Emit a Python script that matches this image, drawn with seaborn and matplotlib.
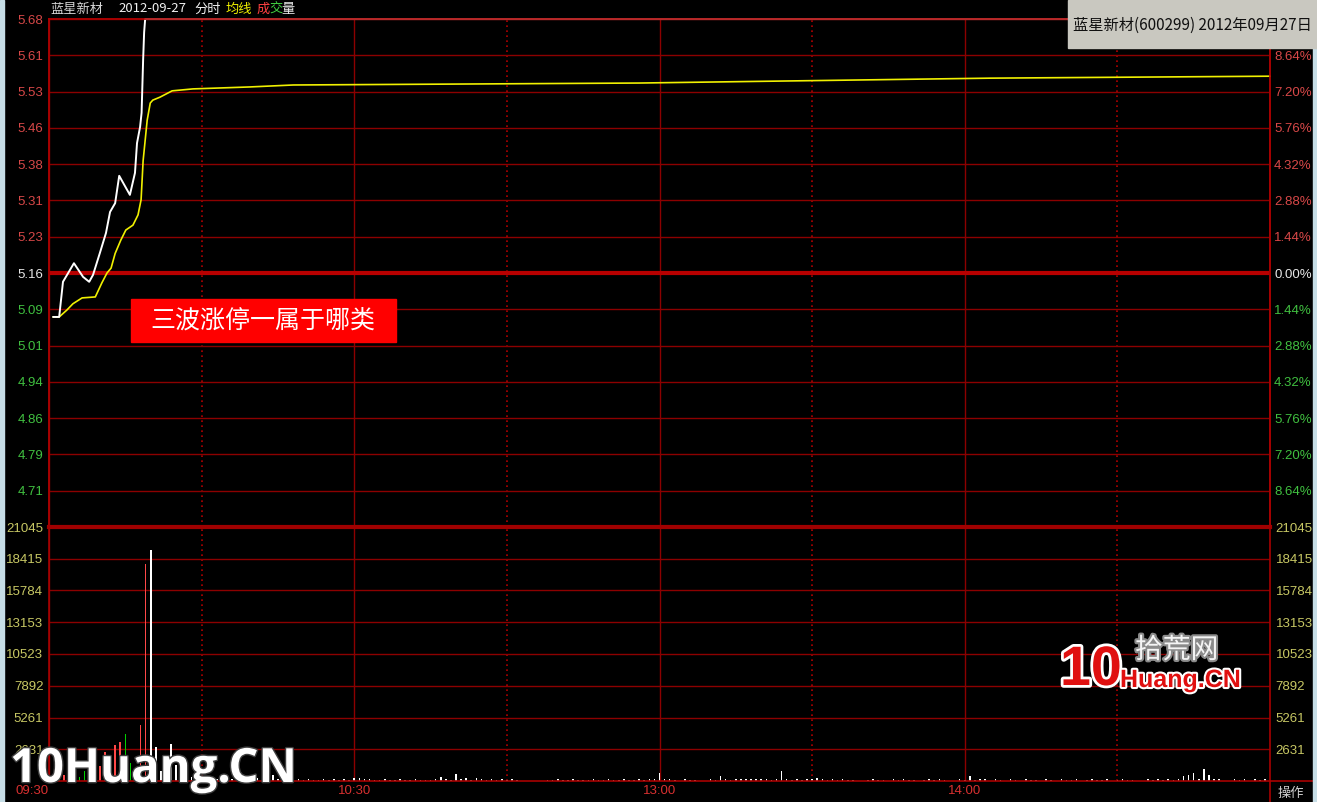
import pandas as pd
import seaborn as sns
import matplotlib.pyplot as plt
import matplotlib.patheffects as pe
from matplotlib.patches import Rectangle
from matplotlib.lines import Line2D

# x values are trading minutes after 09:30 (lunch break removed, 240 = 15:00)
price_t = [0.8, 2.0, 2.75, 4.9, 6.7, 7.9, 8.65, 10.0, 11.2, 12.0, 13.0, 13.8,
           15.9, 16.9, 17.3, 17.9, 18.2, 18.5, 18.7, 18.9, 240]
price_v = [5.07, 5.07, 5.142, 5.18, 5.152, 5.142, 5.156, 5.201, 5.242, 5.285,
           5.303, 5.359, 5.320, 5.365, 5.426, 5.459, 5.488, 5.596, 5.653, 5.68, 5.68]

avg_t = [0.8, 2.0, 3.5, 4.7, 6.5, 9.1, 10.4, 11.4, 12.2, 13.0, 14.1, 15.1, 16.5,
         17.5, 18.1, 18.5, 19.3, 19.9, 20.4, 21.8, 24.2, 28.3, 39.5, 48, 116, 185, 240]
avg_v = [5.07, 5.07, 5.084, 5.097, 5.109, 5.111, 5.14, 5.16, 5.17, 5.20, 5.227,
         5.248, 5.258, 5.279, 5.31, 5.39, 5.473, 5.508, 5.514, 5.52, 5.533, 5.537,
         5.541, 5.545, 5.549, 5.559, 5.563]

# volume per minute, minutes 1..239
volume = [
    600, 300, 500, 350, 200, 300, 860, 400, 700, 1270, 2440, 1200, 2990, 3190, 3900,
    1500, 900, 4600, 18000, 19170, 2850, 800, 1200, 3070, 1330, 800, 600, 350, 500, 360,
    150, 120, 200, 150, 100, 180, 120, 150, 100, 200, 220, 150, 120, 500, 150,
    100, 180, 120, 150, 100, 150, 120, 100, 150, 120, 150, 120, 150, 120, 280,
    250, 150, 150, 120, 100, 150, 120, 100, 150, 100, 120, 150, 100, 120, 100,
    150, 330, 160, 120, 600, 150, 250, 120, 280, 150, 120, 150, 100, 150, 120,
    150, 100, 0, 0, 0, 0, 0, 120, 100, 150, 100, 120, 150, 100, 120,
    100, 150, 120, 100, 150, 120, 100, 150, 100, 120, 150, 100, 200, 150, 700,
    200, 150, 120, 0, 150, 100, 120, 0, 0, 150, 120, 390, 150, 120, 150,
    200, 150, 200, 150, 200, 150, 120, 150, 830, 150, 120, 150, 100, 150, 150,
    250, 150, 120, 150, 100, 150, 120, 100, 0, 0, 120, 150, 100, 120, 0,
    150, 100, 150, 120, 100, 0, 120, 150, 100, 150, 100, 0, 0, 150, 120,
    390, 120, 200, 150, 0, 150, 120, 0, 150, 100, 0, 150, 120, 100, 0,
    150, 120, 0, 150, 100, 120, 150, 0, 100, 150, 120, 100, 150, 0, 120,
    150, 120, 100, 0, 0, 150, 120, 150, 100, 150, 120, 150, 390, 460, 690,
    200, 1000, 500, 200, 200, 0, 0, 150, 120, 150, 0, 150, 120, 150,
]
# u = up (red), d = down (green); every later minute is flat at limit-up (white)
vol_side_open = "uduudddduuuuuuddduuf"

prev_close = 5.16
price_labels = ["4.71", "4.79", "4.86", "4.94", "5.01", "5.09", "5.16",
                "5.23", "5.31", "5.38", "5.46", "5.53", "5.61", "5.68"]
# the top percent label sits under the title box in the reference
pct_labels = ["8.64%", "7.20%", "5.76%", "4.32%", "2.88%", "1.44%", "0.00%",
              "1.44%", "2.88%", "4.32%", "5.76%", "7.20%", "8.64%", ""]
vol_ticks = [2631, 5261, 7892, 10523, 13153, 15784, 18415, 21045]
time_ticks = [0, 60, 120, 180]
time_labels = ["09:30", "10:30", "13:00", "14:00"]

sns.set_theme(style="dark")
plt.rcParams["font.family"] = ["Liberation Sans", "Noto Sans CJK SC"]

W, H = 1317, 802
fig = plt.figure(figsize=(W / 100, H / 100), dpi=100, facecolor="black")


def fx(x):
    return x / W


def fy(y):
    return 1 - y / H


GRID = "#8c0000"
AXIS = "#a80000"
RED_T = "#d84848"
GREEN_T = "#40c040"
WHITE_T = "#e8e8e8"
YEL_T = "#c8c864"

axp = fig.add_axes([fx(49), fy(527), fx(1221), 508 / H])
axv = fig.add_axes([fx(49), fy(781), fx(1221), 254 / H], sharex=axp)

# price panel
step = prev_close * 0.0144
pticks = [prev_close + step * k for k in range(-6, 8)]
sns.lineplot(x=avg_t, y=avg_v, ax=axp, color="#f0f000", lw=1.2, estimator=None, sort=False)
sns.lineplot(x=price_t, y=price_v, ax=axp, color="white", lw=1.4, estimator=None, sort=False)
for ln in axp.lines:
    ln.set_clip_on(False)
    ln.set_zorder(5)
axp.axhline(prev_close, color="#b80000", lw=3, zorder=3)
axp.set_xlim(0, 240)
axp.set_ylim(prev_close - 7 * step, prev_close + 7 * step)
axp.set_facecolor("black")
axp.set_yticks(pticks)
axp.set_yticklabels(price_labels)
for lab, k in zip(axp.get_yticklabels(), range(-6, 8)):
    lab.set_color(RED_T if k > 0 else (WHITE_T if k == 0 else GREEN_T))
axp.set_xticks([0, 60, 120, 180, 240])
axp.set_xticks([30, 90, 150, 210], minor=True)
axp.grid(True, axis="y", color=GRID, lw=1)
axp.grid(True, axis="x", which="major", color=GRID, lw=1)
axp.grid(True, axis="x", which="minor", color="#b00000", lw=1.2, ls=(0, (1, 2)))
axp.tick_params(axis="x", which="both", length=0, labelbottom=False)
axp.tick_params(axis="y", length=0, pad=4, labelsize=9.5)
axp.set_xlabel("")
axp.set_ylabel("")

axr = axp.twinx()
axr.set_ylim(axp.get_ylim())
axr.set_yticks(pticks)
axr.set_yticklabels(pct_labels)
for lab, k in zip(axr.get_yticklabels(), range(-6, 8)):
    lab.set_color(RED_T if k > 0 else (WHITE_T if k == 0 else GREEN_T))
axr.tick_params(axis="y", length=0, pad=3, labelsize=9.5)
axr.grid(False)

for a in (axp, axr):
    for side in ("left", "right", "top"):
        a.spines[side].set_color(AXIS)
        a.spines[side].set_linewidth(1.2)
    a.spines["bottom"].set_visible(False)

# volume panel
df = pd.DataFrame({"minute": range(1, len(volume) + 1), "vol": volume})
df["side"] = [vol_side_open[i] if i < len(vol_side_open) else "f" for i in range(len(df))]
sns.barplot(data=df, x="minute", y="vol", hue="side", native_scale=True, dodge=False,
            palette={"u": "#ff4848", "d": "#00d000", "f": "#ffffff"},
            width=0.3, errorbar=None, legend=False, saturation=1, linewidth=0, ax=axv)
axv.set_facecolor("black")
axv.set_xlim(0, 240)
axv.set_ylim(0, 21045)
axv.set_yticks(vol_ticks)
axv.set_yticklabels([str(v) for v in vol_ticks], color=YEL_T)
axv.tick_params(axis="y", length=0, pad=4, labelsize=9.5, labelright=True, right=False,
                labelcolor=YEL_T)
axv.set_xticks(time_ticks)
axv.set_xticklabels(time_labels, color="#d83030")
axv.set_xticks([30, 90, 150, 210], minor=True)
axv.xaxis.get_majorticklabels()[0].set_horizontalalignment("right")
axv.tick_params(axis="x", which="both", length=0, pad=3, labelsize=9.5)
axv.grid(True, axis="y", color=GRID, lw=1)
axv.grid(True, axis="x", which="major", color=GRID, lw=1)
axv.grid(True, axis="x", which="minor", color="#b00000", lw=1.2, ls=(0, (1, 2)))
axv.set_xlabel("")
axv.set_ylabel("")
for side in ("left", "right", "bottom"):
    axv.spines[side].set_color(AXIS)
    axv.spines[side].set_linewidth(1.2)
axv.spines["top"].set_color("#a00000")
axv.spines["top"].set_linewidth(3)

# frame extras
fig.add_artist(Line2D([fx(1270), fx(1270)], [0, fy(781)], color=AXIS, lw=1.2))
fig.add_artist(Line2D([fx(1270), fx(1313)], [fy(781), fy(781)], color=AXIS, lw=1.2))
fig.patches.append(Rectangle((0, 0), fx(4), 1, transform=fig.transFigure,
                             color="#c6dde6", zorder=6))
fig.patches.append(Rectangle((fx(1313), 0), fx(4), 1, transform=fig.transFigure,
                             color="#c6dde6", zorder=6))

# header
cjk = ["Noto Sans CJK SC", "DejaVu Sans"]
hy = fy(9)
fig.text(fx(50), hy, "蓝星新材", color="#d8d8d8", fontsize=9.5, family=cjk, va="center")
fig.text(fx(118), hy, "2012-09-27", color="#f0f0f0", fontsize=9.5, family=cjk, va="center")
fig.text(fx(194), hy, "分时", color="#f0f0f0", fontsize=9.5, family=cjk, va="center")
fig.text(fx(226), hy, "均线", color="#f0f000", fontsize=9.5, family=cjk, va="center")
fig.text(fx(257), hy, "成", color="#ff4040", fontsize=9.5, family=cjk, va="center")
fig.text(fx(269), hy, "交", color="#40d040", fontsize=9.5, family=cjk, va="center")
fig.text(fx(281), hy, "量", color="#f0f0f0", fontsize=9.5, family=cjk, va="center")

# title box top right
fig.patches.append(Rectangle((fx(1068), fy(48)), fx(1317 - 1068), 48 / H,
                             transform=fig.transFigure, color="#c9c8c0", zorder=7))
fig.text(fx(1192), fy(25), "蓝星新材(600299) 2012年09月27日", color="#101010",
         fontsize=11, family=cjk, ha="center", va="center", zorder=8)

# annotation
fig.patches.append(Rectangle((fx(131), fy(342)), fx(265), 43 / H,
                             transform=fig.transFigure, color="#ff0000", zorder=7))
fig.text(fx(263), fy(321), "三波涨停一属于哪类", color="white", fontsize=18,
         family=cjk, ha="center", va="center", zorder=8)

# watermarks
fig.text(fx(10), fy(782), "10Huang.CN", color="white", fontsize=34, family="Open Sans",
         weight="bold", va="baseline", zorder=9,
         path_effects=[pe.withStroke(linewidth=2, foreground="#404040")])
fig.text(fx(1060), fy(685), "10", color="#e01010", fontsize=40, weight="bold",
         va="baseline", zorder=9,
         path_effects=[pe.withStroke(linewidth=4, foreground="white")])
fig.text(fx(1135), fy(658), "拾荒网", color="#f4f4f4", fontsize=20, family=cjk,
         va="baseline", zorder=9,
         path_effects=[pe.withStroke(linewidth=3, foreground="#8a8a8a")])
fig.text(fx(1120), fy(687), "Huang.CN", color="#e01010", fontsize=18, weight="bold",
         va="baseline", zorder=9,
         path_effects=[pe.withStroke(linewidth=3, foreground="white")])

fig.text(fx(1291), fy(793), "操作", color="#d0d0d0", fontsize=9.5, family=cjk,
         ha="center", va="center")

fig.savefig("out.png", dpi=100, facecolor="black")
